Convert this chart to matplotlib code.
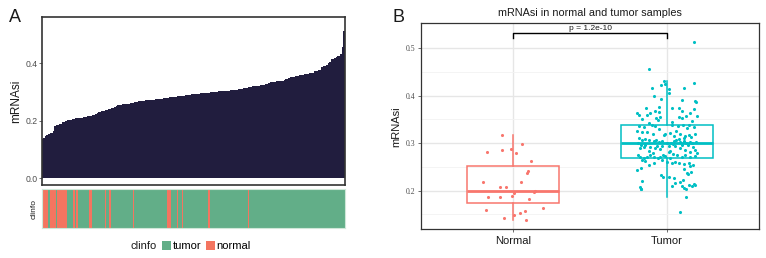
import matplotlib
matplotlib.use("Agg")
import matplotlib.pyplot as plt
from matplotlib.patches import Patch
import numpy as np

plt.rcParams['font.family'] = ['Liberation Sans', 'DejaVu Sans']

# ---------------- data ----------------
groups = ["Normal", "Tumor"]
strip_labels = ["tumor", "normal"]

normal_values = [0.317, 0.2816, 0.2858, 0.287, 0.280, 0.2985, 0.263, 0.242, 0.238,
                 0.2177, 0.2183, 0.2085, 0.207, 0.1895, 0.197, 0.1995, 0.1874, 0.187,
                 0.1945, 0.1825, 0.1593, 0.1635, 0.1418, 0.1488, 0.1524, 0.1566, 0.1382]
normal_jitter = [-0.074, -0.169, -0.074, -0.011, 0.017, 0.058, 0.119, 0.100, 0.089,
                 -0.195, 0.050, -0.082, -0.048, -0.007, 0.134, 0.143, -0.162, -0.084,
                 0.003, 0.104, -0.178, 0.195, -0.058, 0.009, 0.048, 0.076, 0.087]

tumor_values = [
    0.5134, 0.457, 0.431, 0.424, 0.422, 0.417, 0.4137, 0.405, 0.416, 0.4264,
    0.3996, 0.394, 0.392, 0.390, 0.387, 0.374, 0.377, 0.375, 0.3737, 0.372,
    0.367, 0.363, 0.363, 0.3596, 0.363, 0.360, 0.367, 0.365, 0.351, 0.353,
    0.355, 0.356, 0.3575, 0.358, 0.353,
    0.337, 0.335, 0.3385, 0.3365, 0.3385, 0.3364, 0.339, 0.3385, 0.335,
    0.3265, 0.3244, 0.324, 0.3195, 0.3174, 0.3195, 0.322, 0.3153, 0.3195, 0.3153,
    0.3174, 0.3138, 0.3195,
    0.3105, 0.307, 0.307, 0.304, 0.3026, 0.3054, 0.301, 0.3054, 0.3084, 0.3033,
    0.3054, 0.301, 0.3033, 0.301,
    0.2963, 0.2928, 0.2928, 0.2894, 0.2942, 0.2822, 0.2843, 0.294, 0.289, 0.296,
    0.2915, 0.2858, 0.2788,
    0.2753, 0.2717, 0.2683, 0.2717, 0.2753, 0.2704, 0.2717, 0.273, 0.2753, 0.2717,
    0.2753, 0.2704,
    0.2647, 0.2542, 0.2578, 0.2647, 0.2611, 0.2578, 0.2578, 0.2563, 0.2578, 0.2542,
    0.2436, 0.245, 0.240, 0.235, 0.233, 0.2295, 0.2295,
    0.2211, 0.2084, 0.2036, 0.2099, 0.2169, 0.219, 0.2226, 0.2099, 0.205, 0.2036,
    0.212, 0.21, 0.212,
    0.186, 0.156,
    0.297, 0.295, 0.2975, 0.296, 0.2935, 0.290, 0.287, 0.2865, 0.284, 0.282,
    0.279, 0.278, 0.276, 0.274, 0.2695, 0.268,
    0.300, 0.3015, 0.3035, 0.306, 0.309, 0.312, 0.326, 0.329, 0.332, 0.3065,
    0.2625, 0.26, 0.2515, 0.248, 0.238, 0.226, 0.215, 0.2025,
    0.342, 0.3445, 0.347, 0.349]
tumor_jitter = [
    0.175, -0.115, -0.02, -0.016, -0.04, -0.10, 0.013, 0.013, 0.11, 0.173,
    -0.087, -0.04, 0.095, 0.18, 0.19, -0.137, -0.05, 0.03, 0.078, 0.173,
    0.10, 0.15, -0.195, -0.18, -0.11, -0.13, -0.076, -0.055, -0.16, -0.07,
    -0.044, 0.078, 0.125, 0.195, 0.10,
    -0.18, -0.15, -0.10, -0.076, 0.03, 0.07, 0.104, 0.145, 0.173,
    -0.195, -0.163, -0.13, -0.094, -0.022, -0.011, 0.021, 0.047, 0.086, 0.119,
    0.14, 0.156, 0.184,
    -0.18, -0.163, -0.12, -0.087, -0.055, -0.033, 0.028, 0.043, 0.075, 0.086,
    0.108, 0.125, 0.147, 0.163,
    -0.167, -0.152, -0.11, -0.076, -0.065, 0.01, 0.021, 0.054, 0.086, 0.134,
    0.169, 0.184, 0.195,
    -0.19, -0.174, -0.152, -0.13, -0.11, -0.087, -0.044, -0.011, 0.065, 0.097,
    0.119, 0.147,
    -0.163, -0.12, -0.087, -0.033, 0.0, 0.033, 0.075, 0.108, 0.14, 0.169,
    -0.195, 0.108, 0.156, 0.134, -0.037, -0.026, 0.01,
    -0.163, -0.174, -0.167, 0.033, 0.054, 0.086, 0.104, 0.097, 0.113, 0.125,
    0.14, 0.163, 0.184,
    0.121, 0.082,
    -0.14, -0.03, 0.04, 0.095, 0.012, -0.175, -0.045, 0.115, -0.12, 0.15,
    -0.09, 0.04, -0.025, 0.18, 0.02, -0.06,
    -0.19, -0.002, 0.19, 0.06, -0.14, 0.11, 0.06, -0.05, 0.13, -0.07,
    -0.14, 0.05, 0.15, -0.17, 0.13, 0.045, 0.175, -0.17,
    -0.12, 0.035, 0.16, -0.06]

p_label = "p = 1.2e-10"

# ---------------- colours ----------------
c_normal = "#F8766D"
c_tumor = "#00BFC4"
c_bar = "#211D3E"
c_strip_t = "#62AE88"
c_strip_n = "#F47560"

fig = plt.figure(figsize=(7.66, 2.58), dpi=100)

# ---------------- Panel A ----------------
all_vals = np.array(normal_values + tumor_values)
all_grp = np.array(["normal"] * len(normal_values) + ["tumor"] * len(tumor_values))
order = np.argsort(all_vals, kind="stable")
sv = all_vals[order]
sg = all_grp[order]
n = len(sv)
xs = np.arange(1, n + 1)

axA = fig.add_axes([0.0544, 0.2829, 0.396, 0.6524])
axA.bar(xs, sv, width=1.0, color=c_bar, linewidth=0)
axA.set_xlim(0.5, n + 0.5)
axA.set_ylim(-0.023, 0.562)
axA.set_xticks([])
axA.set_yticks([0.0, 0.2, 0.4])
axA.set_yticklabels(["0.0", "0.2", "0.4"])
axA.tick_params(axis='y', length=2, width=0.6, color='#555555', labelsize=6.2,
                labelcolor='#4d4d4d', pad=1)
for s in axA.spines.values():
    s.set_color('#333333')
    s.set_linewidth(1.2)
axA.set_ylabel("mRNAsi", fontsize=8.5, color='#1a1a1a', labelpad=2)

axS = fig.add_axes([0.0544, 0.1174, 0.396, 0.1489])
scol = [c_strip_n if g == "normal" else c_strip_t for g in sg]
axS.bar(xs, np.ones(n), width=1.0, color=scol, linewidth=0)
axS.set_xlim(0.5, n + 0.5)
axS.set_ylim(0, 1)
axS.set_xticks([])
axS.set_yticks([])
for s in axS.spines.values():
    s.set_color('#cfe7d8')
    s.set_linewidth(0.8)
axS.set_ylabel("clinfo", fontsize=6, color='#1a1a1a', labelpad=3)

fig.text(0.012, 0.915, "A", fontsize=13, color='#1a1a1a')

fig.text(0.171, 0.047, "clinfo", fontsize=8, ha='left', va='center', color='#1a1a1a')
handles = [Patch(facecolor=c_strip_t, edgecolor='none'),
           Patch(facecolor=c_strip_n, edgecolor='none')]
fig.legend(handles, strip_labels, ncol=2, frameon=False, loc='center left',
           bbox_to_anchor=(0.212, 0.047), fontsize=8, handlelength=0.8,
           handleheight=0.9, handletextpad=0.15, columnspacing=0.4,
           borderpad=0, borderaxespad=0)

# ---------------- Panel B ----------------
axB = fig.add_axes([0.5492, 0.1112, 0.4421, 0.7985])
axB.set_xlim(0.4, 2.6)
axB.set_ylim(0.1186, 0.5527)
axB.set_yticks([0.2, 0.3, 0.4, 0.5])
axB.set_yticks([0.15, 0.25, 0.35, 0.45], minor=True)
axB.set_xticks([1, 2])
axB.set_xticklabels(groups)
axB.grid(True, which='major', color='#e6e6e6', linewidth=1.0)
axB.grid(True, which='minor', axis='y', color='#f2f2f2', linewidth=0.6)
axB.set_axisbelow(True)
axB.tick_params(axis='y', which='major', length=2, width=0.6, color='#555555',
                labelsize=5.6, labelcolor='#4d4d4d', pad=2)
for lab in axB.get_yticklabels():
    lab.set_family(['Liberation Serif', 'DejaVu Serif'])
axB.tick_params(axis='y', which='minor', length=0)
axB.tick_params(axis='x', length=2, width=0.6, color='#555555', labelsize=8,
                labelcolor='#1a1a1a', pad=3)
for s in axB.spines.values():
    s.set_color('#333333')
    s.set_linewidth(0.9)

for i, (vals, jit, col) in enumerate([(normal_values, normal_jitter, c_normal),
                                        (tumor_values, tumor_jitter, c_tumor)]):
    pos = i + 1
    axB.boxplot([vals], positions=[pos], widths=0.6, whis=1.5, showfliers=False,
                showcaps=False, patch_artist=True,
                boxprops=dict(facecolor='none', edgecolor=col, linewidth=1.1),
                whiskerprops=dict(color=col, linewidth=1.1),
                medianprops=dict(color=col, linewidth=2.0),
                manage_ticks=False)
    axB.scatter(pos + np.array(jit), vals, s=5, color=col, linewidths=0, zorder=3)

axB.set_ylabel("mRNAsi", fontsize=8, color='#1a1a1a', labelpad=3)
axB.set_title("mRNAsi in normal and tumor samples", fontsize=7.8, color='#1a1a1a', pad=5)

# significance bracket
yb, yt = 0.522, 0.533
axB.plot([1, 1, 2, 2], [yb, yt, yt, yb], color='black', linewidth=1.0)
axB.text(1.5, yt + 0.002, p_label, ha='center', va='bottom', fontsize=6, color='#1a1a1a')

fig.text(0.512, 0.915, "B", fontsize=13, color='#1a1a1a')

fig.savefig("out.png", dpi=100)
